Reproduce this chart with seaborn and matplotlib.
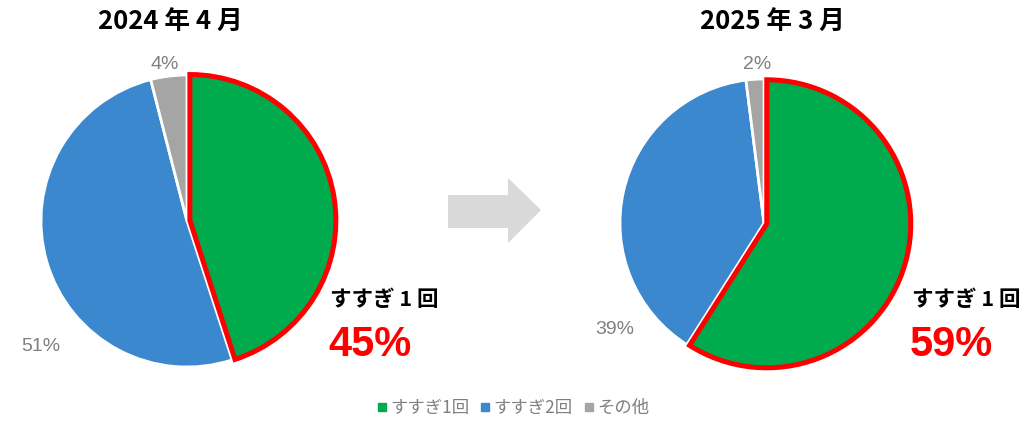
import matplotlib
matplotlib.use("Agg")
import matplotlib.pyplot as plt
import seaborn as sns
from matplotlib.patches import Polygon
from matplotlib.lines import Line2D

# ---- data ----
categories = ["すすぎ1回", "すすぎ2回", "その他"]
titles = ["2024 年 4 月", "2025 年 3 月"]
values_2024 = [45, 51, 4]
values_2025 = [59, 39, 2]
highlight_label = "すすぎ 1 回"

sns.set_theme(style="white")
plt.rcParams['font.family'] = ['Noto Sans CJK JP', 'DejaVu Sans']
colors = ["#00AB4E", "#3B88CE", "#A5A5A5"]

W, H = 1028, 425
fig = plt.figure(figsize=(W / 100, H / 100), dpi=100)
fig.patch.set_facecolor("white")

def px_axes(cx, cy, r):
    return fig.add_axes([(cx - r) / W, (H - cy - r) / H, 2 * r / W, 2 * r / H])

pct_font = ['Liberation Sans Narrow', 'Liberation Sans', 'DejaVu Sans']

def draw_pie(cx, cy, r, vals, title, lab_pos, hl_xy):
    ax = px_axes(cx, cy, r)
    wedges, _ = ax.pie(vals, colors=colors, startangle=90, counterclock=False,
                       explode=[0.02, 0, 0], radius=1.0,
                       wedgeprops=dict(edgecolor="white", linewidth=2.0))
    wedges[0].set_edgecolor("#FF0000")
    wedges[0].set_linewidth(3.6)
    wedges[0].set_zorder(5)
    ax.set_xlim(-1, 1)
    ax.set_ylim(-1, 1)
    ax.set_aspect("auto")
    ax.axis("off")
    for i in (1, 2):
        x, y = lab_pos[i]
        ax.text(x, y, f"{vals[i]}%", ha="center", va="center", fontsize=14,
                color="#7F7F7F", family=pct_font)
    # title
    fig.text(lab_pos["title"][0] / W, 1 - lab_pos["title"][1] / H, title,
             ha="center", va="center", fontsize=18.5, fontweight="bold", color="black")
    # highlight
    fig.text(hl_xy[0] / W, 1 - hl_xy[1] / H, highlight_label, ha="left", va="center",
             fontsize=15.5, fontweight="bold", color="black")
    fig.text((hl_xy[0] - 2) / W, 1 - (hl_xy[1] + 45) / H, f"{vals[0]}%", ha="left",
             va="center", fontsize=30, fontweight="bold", color="#FF0000",
             family=['Liberation Sans', 'DejaVu Sans'])
    return ax

draw_pie(187, 221, 146, values_2024, titles[0],
         {1: (-1.0, -0.86), 2: (-0.15, 1.07), "title": (170, 22)}, (330, 300))
draw_pie(764, 223, 144, values_2025, titles[1],
         {1: (-1.04, -0.74), 2: (-0.05, 1.10), "title": (772, 22)}, (912, 300))

# arrow
arrow = Polygon([(448, 195), (508, 195), (508, 178), (541, 210), (508, 243),
                 (508, 228), (448, 228)], closed=True,
                facecolor="#D9D9D9", edgecolor="none",
                transform=None)
arrow.set_xy([(x, H - y) for x, y in arrow.get_xy()])
fig.patches.append(arrow)

handles = [Line2D([], [], marker="s", linestyle="none", markersize=6,
                  markerfacecolor=c, markeredgecolor=c) for c in colors]
fig.legend(handles, categories, loc="center", bbox_to_anchor=(512 / W, 1 - 408 / H),
           ncol=3, frameon=False, fontsize=12.5, handletextpad=0.1, columnspacing=0.5,
           handlelength=0.8, labelcolor="#7F7F7F")

fig.savefig("out.png", dpi=100)
